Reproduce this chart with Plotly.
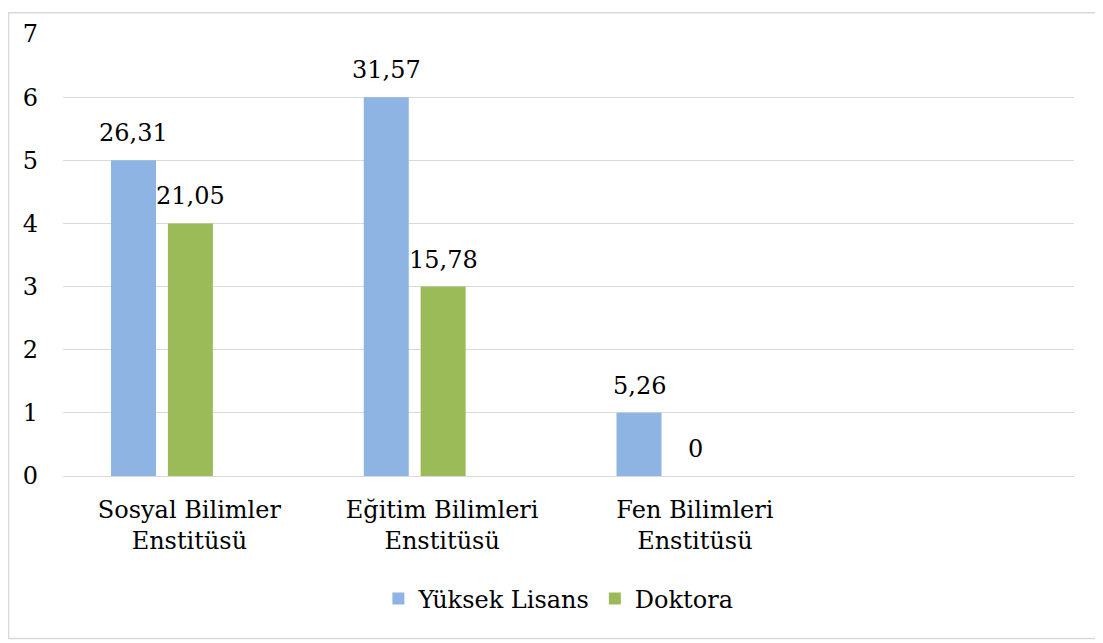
import plotly.graph_objects as go

categories = ["Sosyal Bilimler<br>Enstitüsü", "Eğitim Bilimleri<br>Enstitüsü", "Fen Bilimleri<br>Enstitüsü"]
yuksek_lisans = [5, 6, 1]
doktora = [4, 3, 0]
yuksek_lisans_pct = ["26,31", "31,57", "5,26"]
doktora_pct = ["21,05", "15,78", "0"]
y_ticks = [0, 1, 2, 3, 4, 5, 6, 7]

FONT = "Times New Roman, Liberation Serif, DejaVu Serif, serif"
FONT = "DejaVu Serif"
FS = 24
BAR_W = 0.178
OFFS = [-0.310, -0.085]
COLORS = ["#8EB4E3", "#9BBB59"]

fig = go.Figure()
series = [("Yüksek Lisans", yuksek_lisans, yuksek_lisans_pct),
          ("Doktora", doktora, doktora_pct)]
xidx = list(range(len(categories)))
for (name, vals, pct), off, col in zip(series, OFFS, COLORS):
    fig.add_trace(go.Bar(
        x=xidx, y=vals, name=name, width=BAR_W, offset=off,
        marker=dict(color=col, line=dict(width=0)),
    ))
    for j, (v, t) in enumerate(zip(vals, pct)):
        fig.add_annotation(
            x=j + off + BAR_W / 2, y=v, xref="x", yref="y",
            text=t, showarrow=False, yanchor="bottom", yshift=11,
            font=dict(family=FONT, size=FS, color="#000000"),
        )

fig.update_layout(
    width=1095, height=635,
    margin=dict(l=55, r=29, t=22, b=167),
    paper_bgcolor="white", plot_bgcolor="white",
    font=dict(family=FONT, size=FS, color="#000000"),
    showlegend=True,
    legend=dict(orientation="h", x=0.49, y=-0.278, xanchor="center", yanchor="middle",
                font=dict(family=FONT, size=FS), itemwidth=30, traceorder="normal"),
    xaxis=dict(
        tickmode="array", tickvals=xidx, ticktext=categories,
        range=[-0.5, 3.5], showgrid=False, zeroline=False, showline=False,
        ticks="", ticklabelstandoff=17,
        tickfont=dict(family=FONT, size=FS),
    ),
    yaxis=dict(
        range=[0, 7], tickvals=y_ticks, showgrid=True, gridcolor="#D9D9D9", gridwidth=1,
        zeroline=True, zerolinecolor="#D9D9D9", zerolinewidth=1, showline=False,
        ticks="", ticklabelstandoff=24,
        tickfont=dict(family=FONT, size=FS),
    ),
    shapes=[dict(type="rect", xref="paper", yref="paper",
                 x0=-0.0539, x1=1.0267, y0=-0.3677, y1=1.048,
                 line=dict(color="#D9D9D9", width=1.5), fillcolor="rgba(0,0,0,0)", layer="below")],
)

fig.write_html("out.html")
